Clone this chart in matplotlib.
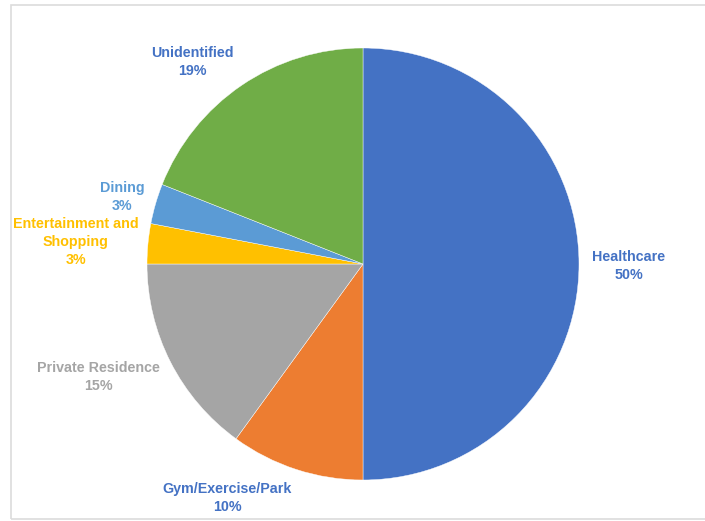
import matplotlib.pyplot as plt
from matplotlib.patches import Rectangle

plt.rcParams['font.family'] = ['Liberation Sans', 'DejaVu Sans']

# share of cases by exposure setting
categories = ["Healthcare", "Gym/Exercise/Park", "Private Residence",
              "Entertainment and\nShopping", "Dining", "Unidentified"]
shares = [50, 10, 15, 3, 3, 19]
slice_colors = ["#4472C4", "#ED7D31", "#A5A5A5", "#FFC000", "#5B9BD5", "#70AD47"]
label_colors = ["#4472C4", "#4472C4", "#A5A5A5", "#FFC000", "#5B9BD5", "#4472C4"]

# label anchor points (pixels from top-left)
label_pos = [(629, 266), (227, 498), (98, 377), (76, 242), (122, 197), (192, 62)]

W, H = 705, 521
fig = plt.figure(figsize=(W / 100, H / 100), dpi=100)
ax = fig.add_axes([0, 0, 1, 1])

# light frame around the chart area
ax.add_patch(Rectangle((11, 2), W, H - 7, fill=False, edgecolor="#DCDCDC", linewidth=1.2))

ax.pie(shares, colors=slice_colors, startangle=90, counterclock=False,
       center=(363, H - 264), radius=216, frame=True,
       wedgeprops=dict(edgecolor="white", linewidth=0.3))
ax.set_xlim(0, W)
ax.set_ylim(0, H)
ax.set_aspect('equal')
ax.axis('off')

for cat, val, col, (x, y) in zip(categories, shares, label_colors, label_pos):
    ax.text(x, H - y, "{}\n{}%".format(cat, val), color=col, fontsize=10.3,
            fontweight='bold', ha='center', va='center', linespacing=1.35)

fig.savefig("out.png", dpi=100)
